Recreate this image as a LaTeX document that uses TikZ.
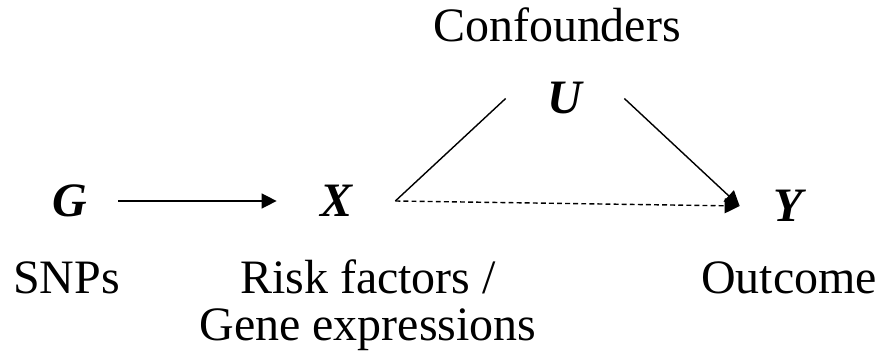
\documentclass[tikz,border=0pt]{standalone}
\usepackage{fontspec}
\setmainfont{Liberation Serif}
\usetikzlibrary{arrows.meta}
\tikzset{
  var/.style={font=\fontsize{27.3pt}{27.3pt}\selectfont\bfseries\itshape, minimum width=2.36cm, inner sep=0pt},
  smallvar/.style={var, minimum width=1.92cm},
  link/.style={line width=0.8pt, draw=black},
  causal/.style={link, -{Triangle[length=0.3cm, width=0.3cm]}},
  hidden/.style={causal, dash pattern=on 2.8pt off 1.8pt},
  note/.style={font=\fontsize{27.3pt}{26.7pt}\selectfont, align=center, anchor=base}
}
\begin{document}
\begin{tikzpicture}
  \useasboundingbox (0,0) rectangle (17.66,7.24);
  \node[smallvar] (G) at (1.40,3.22) {G};
  \node[var] (X) at (6.72,3.22) {X};
  \node[var] (U) at (11.30,5.27) {U};
  \node[smallvar] (Y) at (15.76,3.12) {Y};

  \draw[causal] (G.east) -- (X.west);
  \draw[link] (X.east) -- (U.west);
  \draw[causal] (U.east) -- (Y.west);
  \draw[hidden] (X.east) -- (Y.west);

  \node[note] (conf) at (11.14,6.40) {Confounders};
  \node[note] (snps) at (1.33,1.38) {SNPs};
  % base of a two-line note sits on its last line
  \node[note] (risk) at (7.36,0.44) {Risk factors /\\Gene expressions};
  \node[note] (outc) at (15.78,1.38) {Outcome};
\end{tikzpicture}
\end{document}
